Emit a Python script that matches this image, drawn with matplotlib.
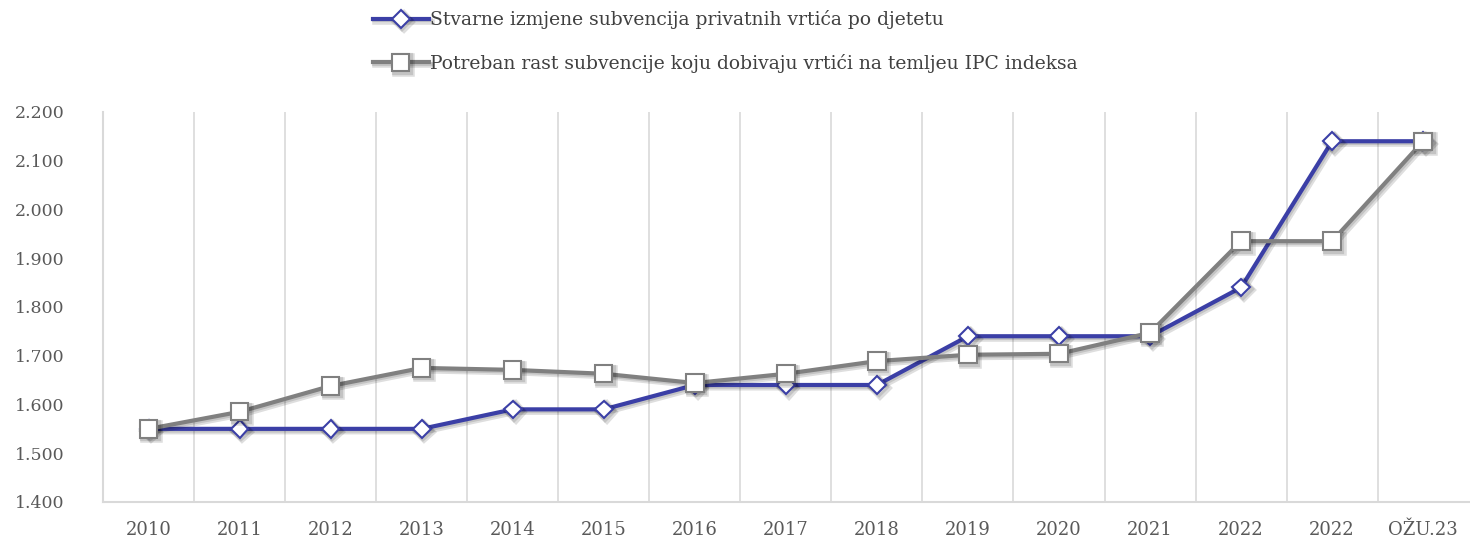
import matplotlib
matplotlib.use("Agg")
import matplotlib.pyplot as plt
import matplotlib.patheffects as pe
from matplotlib.ticker import FuncFormatter, MultipleLocator

# podaci
kategorije = ["2010", "2011", "2012", "2013", "2014", "2015", "2016", "2017",
              "2018", "2019", "2020", "2021", "2022", "2022", "OŽU.23"]
stvarne = [1550, 1550, 1550, 1550, 1590, 1590, 1640, 1640,
           1640, 1740, 1740, 1740, 1840, 2140, 2140]
potreban = [1550, 1585, 1638, 1675, 1671, 1663, 1644, 1663,
            1689, 1702, 1704, 1747, 1935, 1935, 2140]

naziv_stvarne = "Stvarne izmjene subvencija privatnih vrtića po djetetu"
naziv_potreban = "Potreban rast subvencije koju dobivaju vrtići na temljeu IPC indeksa"

plava = "#3B3FA6"
siva = "#808080"
tekst = "#595959"

plt.rcParams["font.family"] = ["DejaVu Serif"]

fig = plt.figure(figsize=(14.7, 5.4), dpi=100)
ax = fig.add_axes([0.0701, 0.0704, 0.929, 0.7222])

x = list(range(len(kategorije)))
sjena = [pe.SimpleLineShadow(offset=(2, -2), shadow_color="black", alpha=0.13, linewidth=4),
         pe.SimpleLineShadow(offset=(1.2, -1.2), shadow_color="black", alpha=0.12, linewidth=3),
         pe.Normal()]

l1, = ax.plot(x, stvarne, color=plava, lw=3, marker="D", ms=9,
              markerfacecolor="white", markeredgecolor=plava, markeredgewidth=1.5,
              label=naziv_stvarne, zorder=3, path_effects=sjena)
l2, = ax.plot(x, potreban, color=siva, lw=3, marker="s", ms=12.5,
              markerfacecolor="white", markeredgecolor=siva, markeredgewidth=1.5,
              label=naziv_potreban, zorder=4, path_effects=sjena)

ax.set_xlim(-0.5, len(kategorije) - 0.5)
ax.set_ylim(1400, 2200)
ax.yaxis.set_major_locator(MultipleLocator(100))
ax.yaxis.set_major_formatter(FuncFormatter(lambda v, p: f"{v:,.0f}".replace(",", ".")))

ax.set_xticks(x)
ax.set_xticklabels(kategorije)
for g in [i + 0.5 for i in x[:-1]]:
    ax.axvline(g, color="#D9D9D9", lw=1.2, zorder=0)

for s in ["top", "right"]:
    ax.spines[s].set_visible(False)
ax.spines["left"].set_color("#D9D9D9")
ax.spines["bottom"].set_color("#D9D9D9")
ax.spines["left"].set_linewidth(1.5)
ax.spines["bottom"].set_linewidth(1.5)

ax.tick_params(axis="both", length=0, colors=tekst)
ax.tick_params(axis="y", labelsize=12.5, pad=28)
ax.tick_params(axis="x", labelsize=13, pad=14)
for t in ax.get_yticklabels():
    t.set_horizontalalignment("right")

leg = fig.legend(handles=[l1, l2], loc="upper left", bbox_to_anchor=(0.242, 1.012),
                 frameon=False, fontsize=13.5, handlelength=3.0, handletextpad=0.05,
                 labelspacing=1.3, labelcolor="#404040")

fig.savefig("out.png", dpi=100)
